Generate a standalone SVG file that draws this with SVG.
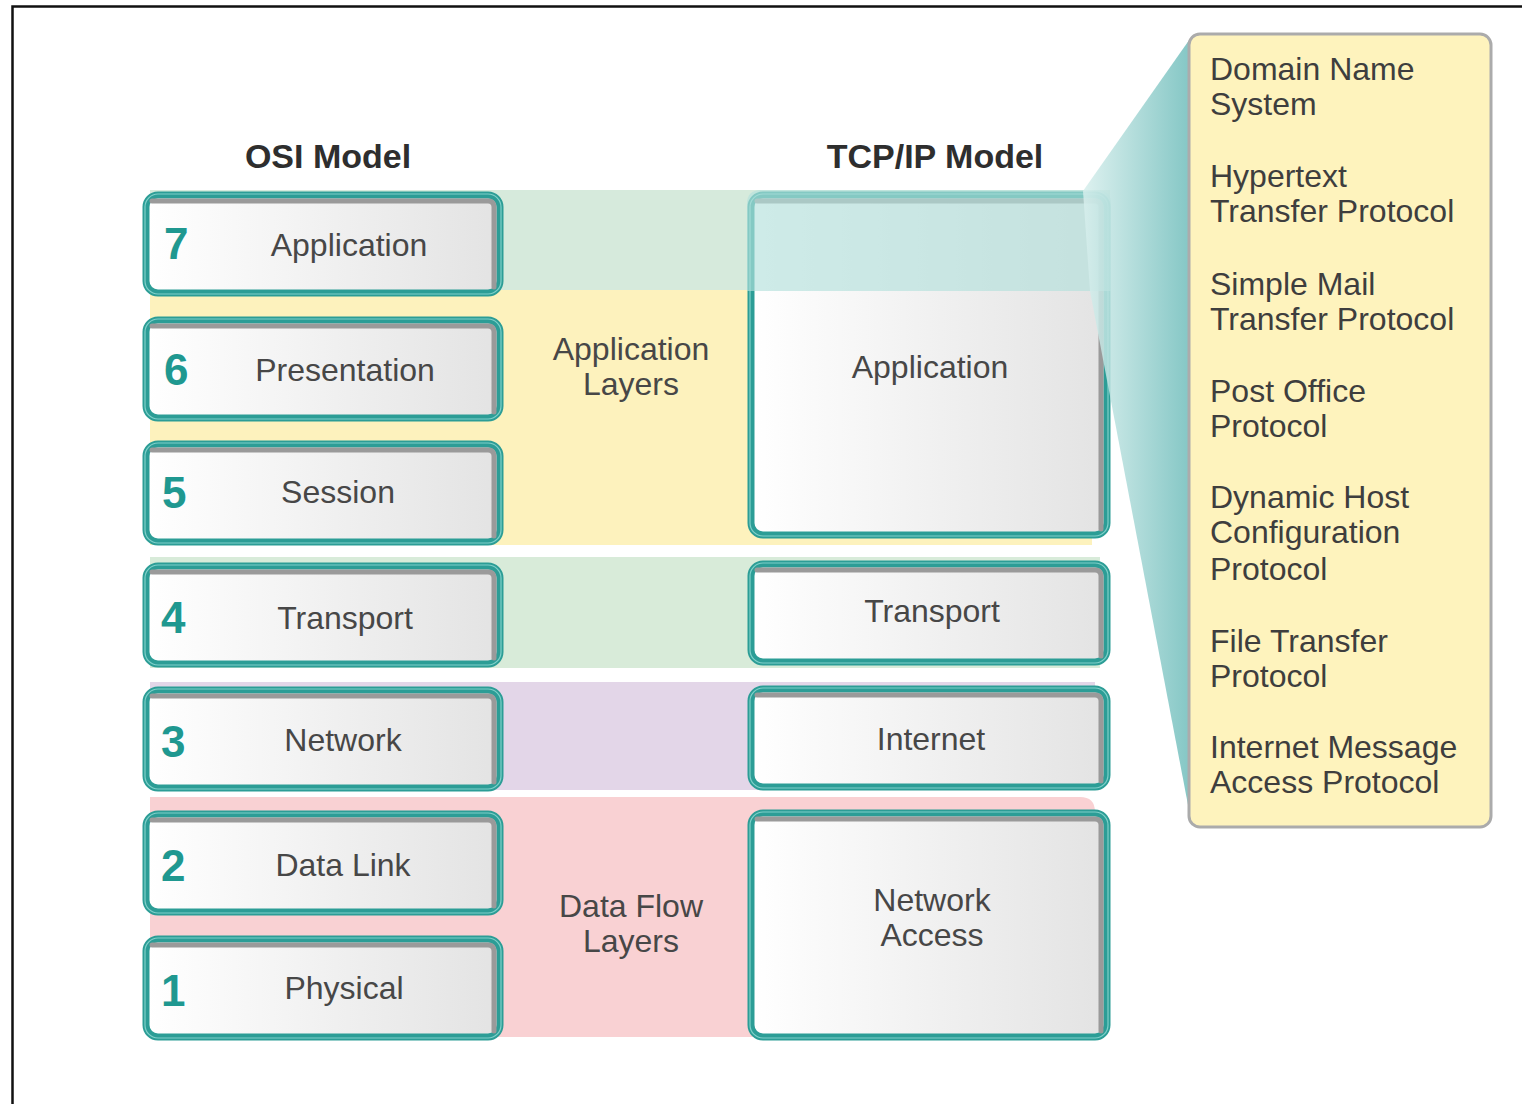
<svg xmlns="http://www.w3.org/2000/svg" width="1522" height="1104" viewBox="0 0 1522 1104">
<defs>
<linearGradient id="boxfill" x1="0" y1="0" x2="1" y2="0">
<stop offset="0" stop-color="#ffffff"/>
<stop offset="1" stop-color="#e3e3e3"/>
</linearGradient>
<linearGradient id="wedge" gradientUnits="userSpaceOnUse" x1="1085" y1="0" x2="1192" y2="0">
<stop offset="0" stop-color="#d6eeec"/>
<stop offset="1" stop-color="#6dbcba"/>
</linearGradient>
<style>
.frame{fill:none;stroke:#111;stroke-width:2.5}
.box{fill:url(#boxfill);stroke:#2c9d96;stroke-width:7}
.hl{fill:none;stroke:#7fd0c9;stroke-width:1.2}
.sh{fill:none;stroke:#9a9a9a;stroke-width:5;stroke-linecap:round}
.t{font-family:"Liberation Sans",Arial,sans-serif;fill:#474747;font-size:32px}
.c{text-anchor:middle}
.num{font-family:"Liberation Sans",Arial,sans-serif;font-weight:bold;fill:#1f9890;font-size:44px}
.title{font-family:"Liberation Sans",Arial,sans-serif;font-weight:bold;fill:#2e2e2e;font-size:34px;text-anchor:middle}
.pt{font-family:"Liberation Sans",Arial,sans-serif;fill:#3e3e3e;font-size:32px}
</style>
</defs>
<rect width="1522" height="1104" fill="#ffffff"/>
<path class="frame" d="M12.5,1104 V6.5 H1522"/>

<g id="bands">
<rect x="150" y="190" width="960" height="101" fill="#d6eadc"/>
<rect x="150" y="290" width="942" height="255" fill="#fdf2bd"/>
<rect x="150" y="557" width="950" height="111" fill="#d8ebd9"/>
<rect x="150" y="682" width="945" height="108" fill="#e3d6e8"/>
<path d="M150,797 H1080 Q1095,797 1095,812 V1037 H150 Z" fill="#f9d1d3"/>
</g>

<g id="osi-title"><text class="title" x="328" y="168">OSI Model</text></g>
<g id="tcp-title"><text class="title" x="935" y="168">TCP/IP Model</text></g>

<g id="osi7">
<rect class="box" x="146" y="195" width="354" height="98" rx="12"/>
<path class="sh" d="M152,201 H488 Q494,201 494,207 V287"/>
<rect class="hl" x="145" y="194" width="356" height="100" rx="13"/>
<text class="num" x="164" y="259">7</text>
<text class="t c" x="349" y="256">Application</text>
</g>
<g id="osi6">
<rect class="box" x="146" y="320" width="354" height="98" rx="12"/>
<path class="sh" d="M152,326 H488 Q494,326 494,332 V412"/>
<rect class="hl" x="145" y="319" width="356" height="100" rx="13"/>
<text class="num" x="164" y="385">6</text>
<text class="t c" x="345" y="381">Presentation</text>
</g>
<g id="osi5">
<rect class="box" x="146" y="444" width="354" height="98" rx="12"/>
<path class="sh" d="M152,450 H488 Q494,450 494,456 V536"/>
<rect class="hl" x="145" y="443" width="356" height="100" rx="13"/>
<text class="num" x="162" y="508">5</text>
<text class="t c" x="338" y="503">Session</text>
</g>
<g id="osi4">
<rect class="box" x="146" y="566" width="354" height="98" rx="12"/>
<path class="sh" d="M152,572 H488 Q494,572 494,578 V658"/>
<rect class="hl" x="145" y="565" width="356" height="100" rx="13"/>
<text class="num" x="161" y="633">4</text>
<text class="t c" x="345" y="629">Transport</text>
</g>
<g id="osi3">
<rect class="box" x="146" y="690" width="354" height="98" rx="12"/>
<path class="sh" d="M152,696 H488 Q494,696 494,702 V782"/>
<rect class="hl" x="145" y="689" width="356" height="100" rx="13"/>
<text class="num" x="161" y="757">3</text>
<text class="t c" x="343" y="751">Network</text>
</g>
<g id="osi2">
<rect class="box" x="146" y="814" width="354" height="98" rx="12"/>
<path class="sh" d="M152,820 H488 Q494,820 494,826 V906"/>
<rect class="hl" x="145" y="813" width="356" height="100" rx="13"/>
<text class="num" x="161" y="881">2</text>
<text class="t c" x="343" y="876">Data Link</text>
</g>
<g id="osi1">
<rect class="box" x="146" y="939" width="354" height="98" rx="12"/>
<path class="sh" d="M152,945 H488 Q494,945 494,951 V1031"/>
<rect class="hl" x="145" y="938" width="356" height="100" rx="13"/>
<text class="num" x="161" y="1006">1</text>
<text class="t c" x="344" y="999">Physical</text>
</g>

<g id="app-layers-label">
<text class="t c" x="631" y="360">Application</text>
<text class="t c" x="631" y="395">Layers</text>
</g>
<g id="data-flow-label">
<text class="t c" x="631" y="917">Data Flow</text>
<text class="t c" x="631" y="952">Layers</text>
</g>

<g id="tcp-application">
<rect class="box" x="751" y="195" width="356" height="340" rx="12"/>
<path class="sh" d="M757,201 H1095 Q1101,201 1101,207 V529"/>
<rect class="hl" x="750" y="194" width="358" height="342" rx="13"/>
<text class="t c" x="930" y="378">Application</text>
</g>
<g id="tcp-transport">
<rect class="box" x="751" y="564" width="356" height="98" rx="12"/>
<path class="sh" d="M757,570 H1095 Q1101,570 1101,576 V656"/>
<rect class="hl" x="750" y="563" width="358" height="100" rx="13"/>
<text class="t c" x="932" y="622">Transport</text>
</g>
<g id="tcp-internet">
<rect class="box" x="751" y="689" width="356" height="98" rx="12"/>
<path class="sh" d="M757,695 H1095 Q1101,695 1101,701 V781"/>
<rect class="hl" x="750" y="688" width="358" height="100" rx="13"/>
<text class="t c" x="931" y="750">Internet</text>
</g>
<g id="tcp-network-access">
<rect class="box" x="751" y="813" width="356" height="224" rx="12"/>
<path class="sh" d="M757,819 H1095 Q1101,819 1101,825 V1031"/>
<rect class="hl" x="750" y="812" width="358" height="226" rx="13"/>
<text class="t c" x="932" y="911">Network</text>
<text class="t c" x="932" y="946">Access</text>
</g>

<g id="callout">
<path d="M747,204 Q747,190 761,190 H1097 Q1111,190 1111,204 V291 H747 Z" fill="#b4e0dc" fill-opacity="0.65"/>
<polygon points="1083,191 1192,36 1192,826 1090,291" fill="url(#wedge)" fill-opacity="0.85"/>
</g>

<g id="protocols">
<rect x="1189" y="34" width="302" height="793" rx="11" fill="#fef3bd" stroke="#ababab" stroke-width="3"/>
<text class="pt" x="1210" y="80">Domain Name</text>
<text class="pt" x="1210" y="115">System</text>
<text class="pt" x="1210" y="187">Hypertext</text>
<text class="pt" x="1210" y="222">Transfer Protocol</text>
<text class="pt" x="1210" y="295">Simple Mail</text>
<text class="pt" x="1210" y="330">Transfer Protocol</text>
<text class="pt" x="1210" y="402">Post Office</text>
<text class="pt" x="1210" y="437">Protocol</text>
<text class="pt" x="1210" y="508">Dynamic Host</text>
<text class="pt" x="1210" y="543">Configuration</text>
<text class="pt" x="1210" y="580">Protocol</text>
<text class="pt" x="1210" y="652">File Transfer</text>
<text class="pt" x="1210" y="687">Protocol</text>
<text class="pt" x="1210" y="758">Internet Message</text>
<text class="pt" x="1210" y="793">Access Protocol</text>
</g>
</svg>
